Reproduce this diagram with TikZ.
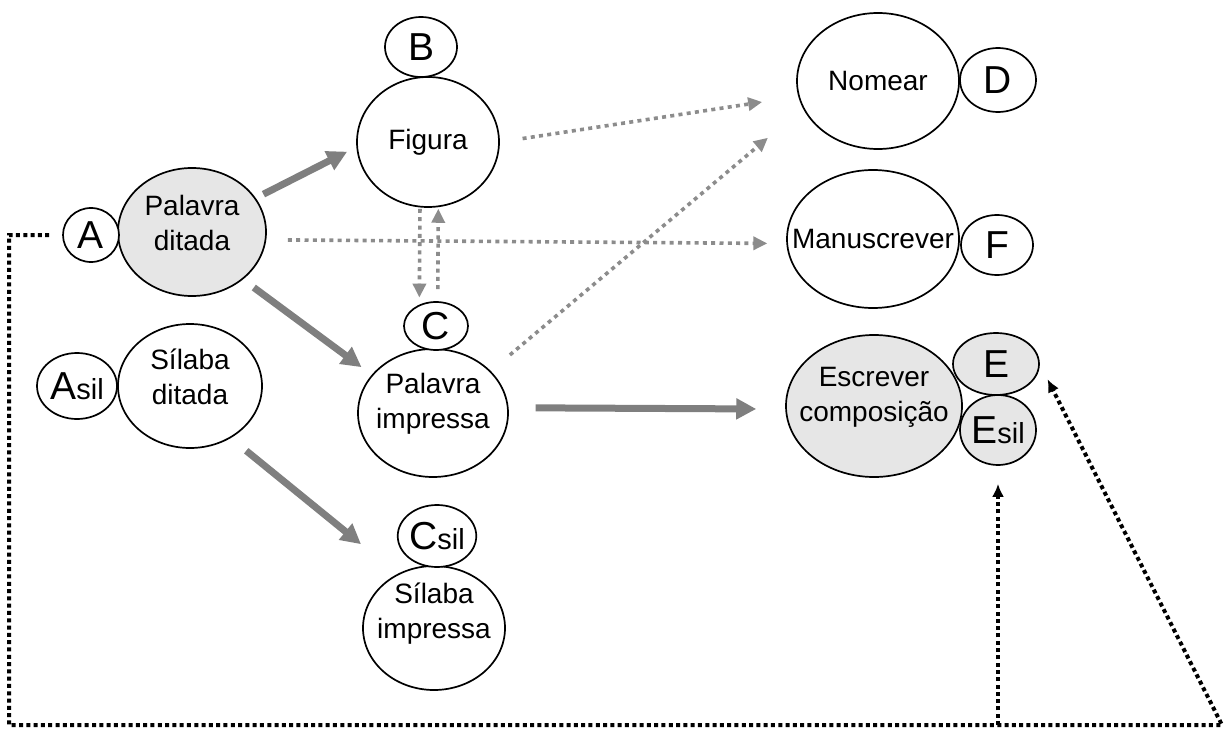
\documentclass[tikz,border=0pt]{standalone}
\usepackage{fontspec}
\setmainfont{Liberation Sans}
\usetikzlibrary{arrows.meta,shapes.geometric}
\definecolor{shade}{HTML}{E6E6E6}
\definecolor{arrgray}{HTML}{7F7F7F}
\definecolor{dotgray}{HTML}{8C8C8C}
\tikzset{
  bub/.style ={ellipse, draw=black, line width=1.7pt, fill=white, inner sep=0pt},
  bubg/.style={bub, fill=shade},
  txt/.style ={font=\fontsize{28}{35}\selectfont, align=center},
  txtup/.style={txt, yshift=9pt},
  let/.style ={bub, font=\fontsize{39}{40}\selectfont},
  thk/.style ={-{Triangle[length=20pt, width=20pt]}, line width=7pt, draw=arrgray},
  gdot/.style={-{Triangle[length=14pt, width=13pt]}, line width=3.6pt, draw=dotgray,
               dash pattern=on 4pt off 4.3pt},
  kdot/.style={-{Latex[length=13pt, width=12pt]}, line width=4pt, draw=black,
               dash pattern=on 4pt off 3.3pt},
}
\newcommand{\silsub}{{\fontsize{29}{30}\selectfont sil}}

\begin{document}
\begin{tikzpicture}[x=1pt, y=-1pt]
\useasboundingbox (0,0) rectangle (1225,730);

% ---------------- left column: dictated ----------------
\node[bubg, minimum width=148, minimum height=128,
      label={[txtup]center:Palavra\\ditada}] (pd) at (192,232) {};
\node[bub, minimum width=144, minimum height=124,
      label={[txtup]center:Sílaba\\ditada}] (sd) at (190,386) {};
\node[let, minimum width=56, minimum height=54] (a) at (91,235) {A};
\node[let, minimum width=80, minimum height=66] (asil) at (77,386) {A\silsub};

% ---------------- middle column: pictures and print ----------------
\node[bub, minimum width=142, minimum height=130,
      label={[txt]center:Figura}] (fig) at (428,142) {};
\node[bub, minimum width=150, minimum height=128,
      label={[txtup]center:Palavra\\impressa}] (pi) at (433,413) {};
\node[bub, minimum width=142, minimum height=124,
      label={[txt, yshift=14pt]center:Sílaba\\impressa}] (si) at (434,628) {};
\node[let, minimum width=72, minimum height=60] (b) at (421,47) {B};
\node[let, minimum width=64, minimum height=48] (c) at (436,326) {C};
\node[let, minimum width=76, minimum height=62] (csil) at (437,536) {C\silsub};

% ---------------- right column: responses ----------------
\node[bub, minimum width=162, minimum height=136,
      label={[txt]center:Nomear}] (nom) at (878,81) {};
\node[bub, minimum width=172, minimum height=138,
      label={[txt]center:Manuscrever}] (man) at (873,239) {};
\node[bubg, minimum width=176, minimum height=142,
      label={[txtup]center:Escrever\\composição}] (esc) at (874,406) {};
\node[let, minimum width=76, minimum height=64] (d) at (998,80) {D};
\node[let, minimum width=72, minimum height=60] (f) at (997,245) {F};
\node[let, fill=shade, minimum width=86, minimum height=62] (e) at (996,364) {E};
\node[let, fill=shade, minimum width=76, minimum height=70] (esil) at (998,430) {E\silsub};

% ---------------- trained relations ----------------
\draw[thk, shorten <=8.6pt, shorten >=10.3pt] (pd.28) -- (fig.184);
\draw[thk, shorten <=13.5pt, shorten >=12.7pt] (pd.-43) -- (pi.148);
\draw[thk, shorten <=20pt, shorten >=47pt] (sd.-52) -- (si.124);
\draw[thk, shorten <=27pt, shorten >=29pt] (pi.4) -- (esc.182);

% ---------------- tested relations ----------------
\draw[gdot, shorten <=23pt, shorten >=36.5pt] (fig.0) -- (nom.191);
\draw[gdot, shorten <=25pt, shorten >=45.7pt] (pi.36.5) -- (nom.200);
\draw[gdot, shorten <=21.6pt, shorten >=19pt] (pd.-6) -- (man.183);
\draw[gdot, shorten <=1.5pt, shorten >=7pt] (fig.-97) -- (c.128);
\draw[gdot, shorten <=12pt, shorten >=1.6pt] (c.86) -- (fig.-81);

% ---------------- dictation to composition ----------------
\coordinate (bl) at (9,725);
\coordinate (br) at (1222,725);
\draw[kdot, shorten <=13pt, shorten >=17pt] (a.west) -| (bl) -- (br) -- (e.east);
\draw[kdot, shorten >=18pt] (esil.south |- bl) -- (esil.south);

\end{tikzpicture}
\end{document}
